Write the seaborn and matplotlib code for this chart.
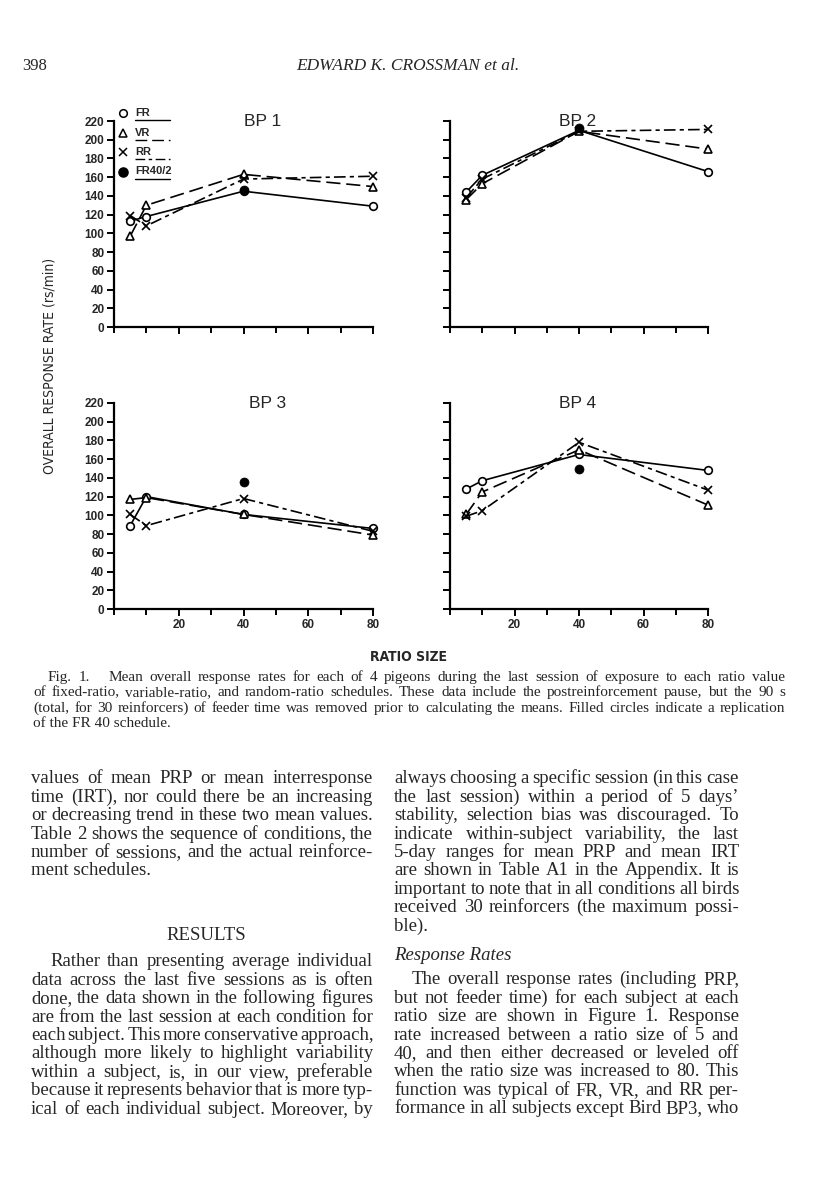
import pandas as pd
import seaborn as sns
import matplotlib.pyplot as plt
from matplotlib import font_manager
from matplotlib.lines import Line2D
from matplotlib.ticker import MultipleLocator

W, H = 816, 1193

# ---- data ----
ratio = [5, 10, 40, 80]
schedules = ["FR", "VR", "RR"]
birds = ["BP 1", "BP 2", "BP 3", "BP 4"]

bp1_fr = [113, 118, 145, 129]
bp1_vr = [97, 130, 163, 150]
bp1_rr = [119, 108, 158, 161]

bp2_fr = [144, 162, 210, 166]
bp2_vr = [136, 153, 209, 190]
bp2_rr = [138, 158, 209, 211]

bp3_fr = [89, 120, 101, 86]
bp3_vr = [117, 119, 101, 79]
bp3_rr = [101, 89, 118, 83]

bp4_fr = [128, 137, 165, 148]
bp4_vr = [101, 125, 170, 111]
bp4_rr = [99, 105, 178, 127]

# FR 40 replication (filled circles)
fr40_rep = [146, 213, 136, 150]

yticks = list(range(0, 221, 20))
xticks = [20, 40, 60, 80]

series = {
    "BP 1": (bp1_fr, bp1_vr, bp1_rr),
    "BP 2": (bp2_fr, bp2_vr, bp2_rr),
    "BP 3": (bp3_fr, bp3_vr, bp3_rr),
    "BP 4": (bp4_fr, bp4_vr, bp4_rr),
}

rows = []
for bird in birds:
    for sched, vals in zip(schedules, series[bird]):
        for r, v in zip(ratio, vals):
            rows.append({"bird": bird, "schedule": sched, "ratio": r, "rate": v})
df = pd.DataFrame(rows)

# ---- styles ----
sns.set_style("ticks")
fonts = font_manager.fontManager.ttflist
names = {f.name for f in fonts}
SANS = "Liberation Sans"
NARROW = SANS
NARROW_STRETCH = "normal"
if "Liberation Sans Narrow" in names:
    NARROW = "Liberation Sans Narrow"
elif any(f.name == "DejaVu Sans" and f.stretch == "condensed" for f in fonts):
    NARROW, NARROW_STRETCH = "DejaVu Sans", "condensed"
SERIF = "Liberation Serif"
plt.rcParams["font.family"] = [SANS, "DejaVu Sans"]

dash_map = {"FR": "-", "VR": (0, (8.5, 3.5)), "RR": (0, (7, 2.5, 2.5, 2.5))}
marker_map = {"FR": "o", "VR": "^", "RR": "x"}

fig = plt.figure(figsize=(W / 100, H / 100), dpi=100)


def rect(left, top, right, bottom):
    return [left / W, 1 - bottom / H, (right - left) / W, (bottom - top) / H]


def put(x, y, s, **kw):
    return fig.text(x / W, 1 - y / H, s, **kw)


axes_px = {
    "BP 1": (114, 121, 373, 327),
    "BP 2": (450, 121, 708, 327),
    "BP 3": (114, 403, 373, 609),
    "BP 4": (450, 403, 708, 609),
}
title_x = {"BP 1": 46, "BP 2": 39.5, "BP 3": 47.5, "BP 4": 39.5}

for i, bird in enumerate(birds):
    ax = fig.add_axes(rect(*axes_px[bird]))
    for sched in schedules:
        sub = df[(df["bird"] == bird) & (df["schedule"] == sched)]
        sns.lineplot(
            data=sub, x="ratio", y="rate", color="black", lw=1.2,
            ls=dash_map[sched], marker=marker_map[sched], markersize=5.5,
            markerfacecolor="white", markeredgecolor="black",
            markeredgewidth=1.2, errorbar=None, legend=False, ax=ax,
            clip_on=False, sort=False,
        )
    sns.scatterplot(x=[40], y=[fr40_rep[i]], color="black", s=42,
                    edgecolor="black", linewidth=0.5, ax=ax, zorder=5,
                    clip_on=False, legend=False)
    ax.set_xlim(0, 80)
    ax.set_ylim(0, 220)
    ax.set_yticks(yticks)
    ax.set_xticks(xticks)
    ax.xaxis.set_minor_locator(MultipleLocator(10))
    ax.tick_params(axis="both", which="both", direction="out", width=1.4,
                   labelsize=8.5, pad=2, color="black")
    ax.tick_params(which="major", length=5)
    ax.tick_params(which="minor", length=4)
    for lab in ax.get_xticklabels() + ax.get_yticklabels():
        lab.set_fontweight("bold")
    if i % 2 == 1:
        ax.set_yticklabels([])
    if i < 2:
        ax.set_xticklabels([])
    ax.set_xlabel("")
    ax.set_ylabel("")
    sns.despine(ax=ax)
    for sp in ("left", "bottom"):
        ax.spines[sp].set_linewidth(1.6)
        ax.spines[sp].set_color("black")
    ax.text(title_x[bird], 219, bird, fontsize=12.5, ha="center",
            va="center", family=SANS)

# ---- legend in BP 1 ----
leg_rows = [("o", "white", "FR", "-"), ("^", "white", "VR", dash_map["VR"]),
            ("x", "white", "RR", dash_map["RR"]), ("o", "black", "FR40/2", "-")]
for k, (mk, fc, lab, dash) in enumerate(leg_rows):
    y = 113 + 19.5 * k
    fig.add_artist(Line2D([123 / W], [1 - y / H], marker=mk, ls="none",
                          mfc=fc, mec="black", mew=1.1,
                          ms=5.5 if fc == "white" else 6.5,
                          transform=fig.transFigure))
    put(135, y, lab, fontsize=8, fontweight="bold", va="center", ha="left")
    fig.add_artist(Line2D([135 / W, 170 / W], [1 - (y + 7) / H] * 2,
                          color="black", lw=1.0, ls=dash,
                          transform=fig.transFigure))

# ---- axis titles ----
put(50, 366, "OVERALL RESPONSE RATE (rs/min)", rotation=90,
    fontsize=10 if NARROW != SANS else 9, family=NARROW,
    fontstretch=NARROW_STRETCH, ha="center", va="center")
put(408, 657, "RATIO SIZE", fontsize=10, fontweight="bold", family=NARROW,
    fontstretch=NARROW_STRETCH, ha="center", va="center")

# ---- page text ----
put(22, 66, "398", fontsize=12, family=SERIF, va="center", ha="left")
put(408, 66, "EDWARD K. CROSSMAN et al.", fontsize=12.5, family=SERIF,
    style="italic", va="center", ha="center")

renderer = fig.canvas.get_renderer()


def line_text(x0, x1, y, s, size, justify=True, **kw):
    words = s.split(" ")
    base = 1 - (y + 0.33 * size * 100 / 72) / H
    if not justify or len(words) == 1:
        fig.text(x0 / W, base, s, fontsize=size, family=SERIF,
                 va="baseline", **kw)
        return
    texts = [put(0, 0, w, fontsize=size, family=SERIF, va="baseline", **kw)
             for w in words]
    widths = [t.get_window_extent(renderer).width for t in texts]
    gap = max((x1 - x0 - sum(widths)) / (len(words) - 1), 2.0)
    x = x0
    for t, w in zip(texts, widths):
        t.set_position((x / W, base))
        x += w + gap


caption = [
    "Fig. 1.   Mean overall response rates for each of 4 pigeons during the last session of exposure to each ratio value",
    "of fixed-ratio, variable-ratio, and random-ratio schedules. These data include the postreinforcement pause, but the 90 s",
    "(total, for 30 reinforcers) of feeder time was removed prior to calculating the means. Filled circles indicate a replication",
    "of the FR 40 schedule.",
]
for k, s in enumerate(caption):
    x0 = 48 if k == 0 else 33
    line_text(x0, 785, 676 + 15.3 * k, s, 11, justify=k < 3)

left_top = [
    "values of mean PRP or mean interresponse",
    "time (IRT), nor could there be an increasing",
    "or decreasing trend in these two mean values.",
    "Table 2 shows the sequence of conditions, the",
    "number of sessions, and the actual reinforce-",
    "ment schedules.",
]
left_bottom = [
    "Rather than presenting average individual",
    "data across the last five sessions as is often",
    "done, the data shown in the following figures",
    "are from the last session at each condition for",
    "each subject. This more conservative approach,",
    "although more likely to highlight variability",
    "within a subject, is, in our view, preferable",
    "because it represents behavior that is more typ-",
    "ical of each individual subject. Moreover, by",
]
right_top = [
    "always choosing a specific session (in this case",
    "the last session) within a period of 5 days\u2019",
    "stability, selection bias was discouraged. To",
    "indicate within-subject variability, the last",
    "5-day ranges for mean PRP and mean IRT",
    "are shown in Table A1 in the Appendix. It is",
    "important to note that in all conditions all birds",
    "received 30 reinforcers (the maximum possi-",
    "ble).",
]
right_bottom = [
    "The overall response rates (including PRP,",
    "but not feeder time) for each subject at each",
    "ratio size are shown in Figure 1. Response",
    "rate increased between a ratio size of 5 and",
    "40, and then either decreased or leveled off",
    "when the ratio size was increased to 80. This",
    "function was typical of FR, VR, and RR per-",
    "formance in all subjects except Bird BP3, who",
]

LS = 18.45
BODY = 13.5
for k, s in enumerate(left_top):
    line_text(31, 373, 777 + LS * k, s, BODY, justify=k < len(left_top) - 1)
line_text(203 - 37, 0, 934, "RESULTS", BODY, justify=False)
for k, s in enumerate(left_bottom):
    line_text(50 if k == 0 else 31, 373, 960 + LS * k, s, BODY)
for k, s in enumerate(right_top):
    line_text(394, 739, 777 + LS * k, s, BODY, justify=k < len(right_top) - 1)
line_text(394, 0, 954, "Response Rates", BODY, justify=False, style="italic")
for k, s in enumerate(right_bottom):
    line_text(412 if k == 0 else 394, 739, 978 + LS * k, s, BODY)

fig.savefig("out.png", dpi=100, facecolor="white")
